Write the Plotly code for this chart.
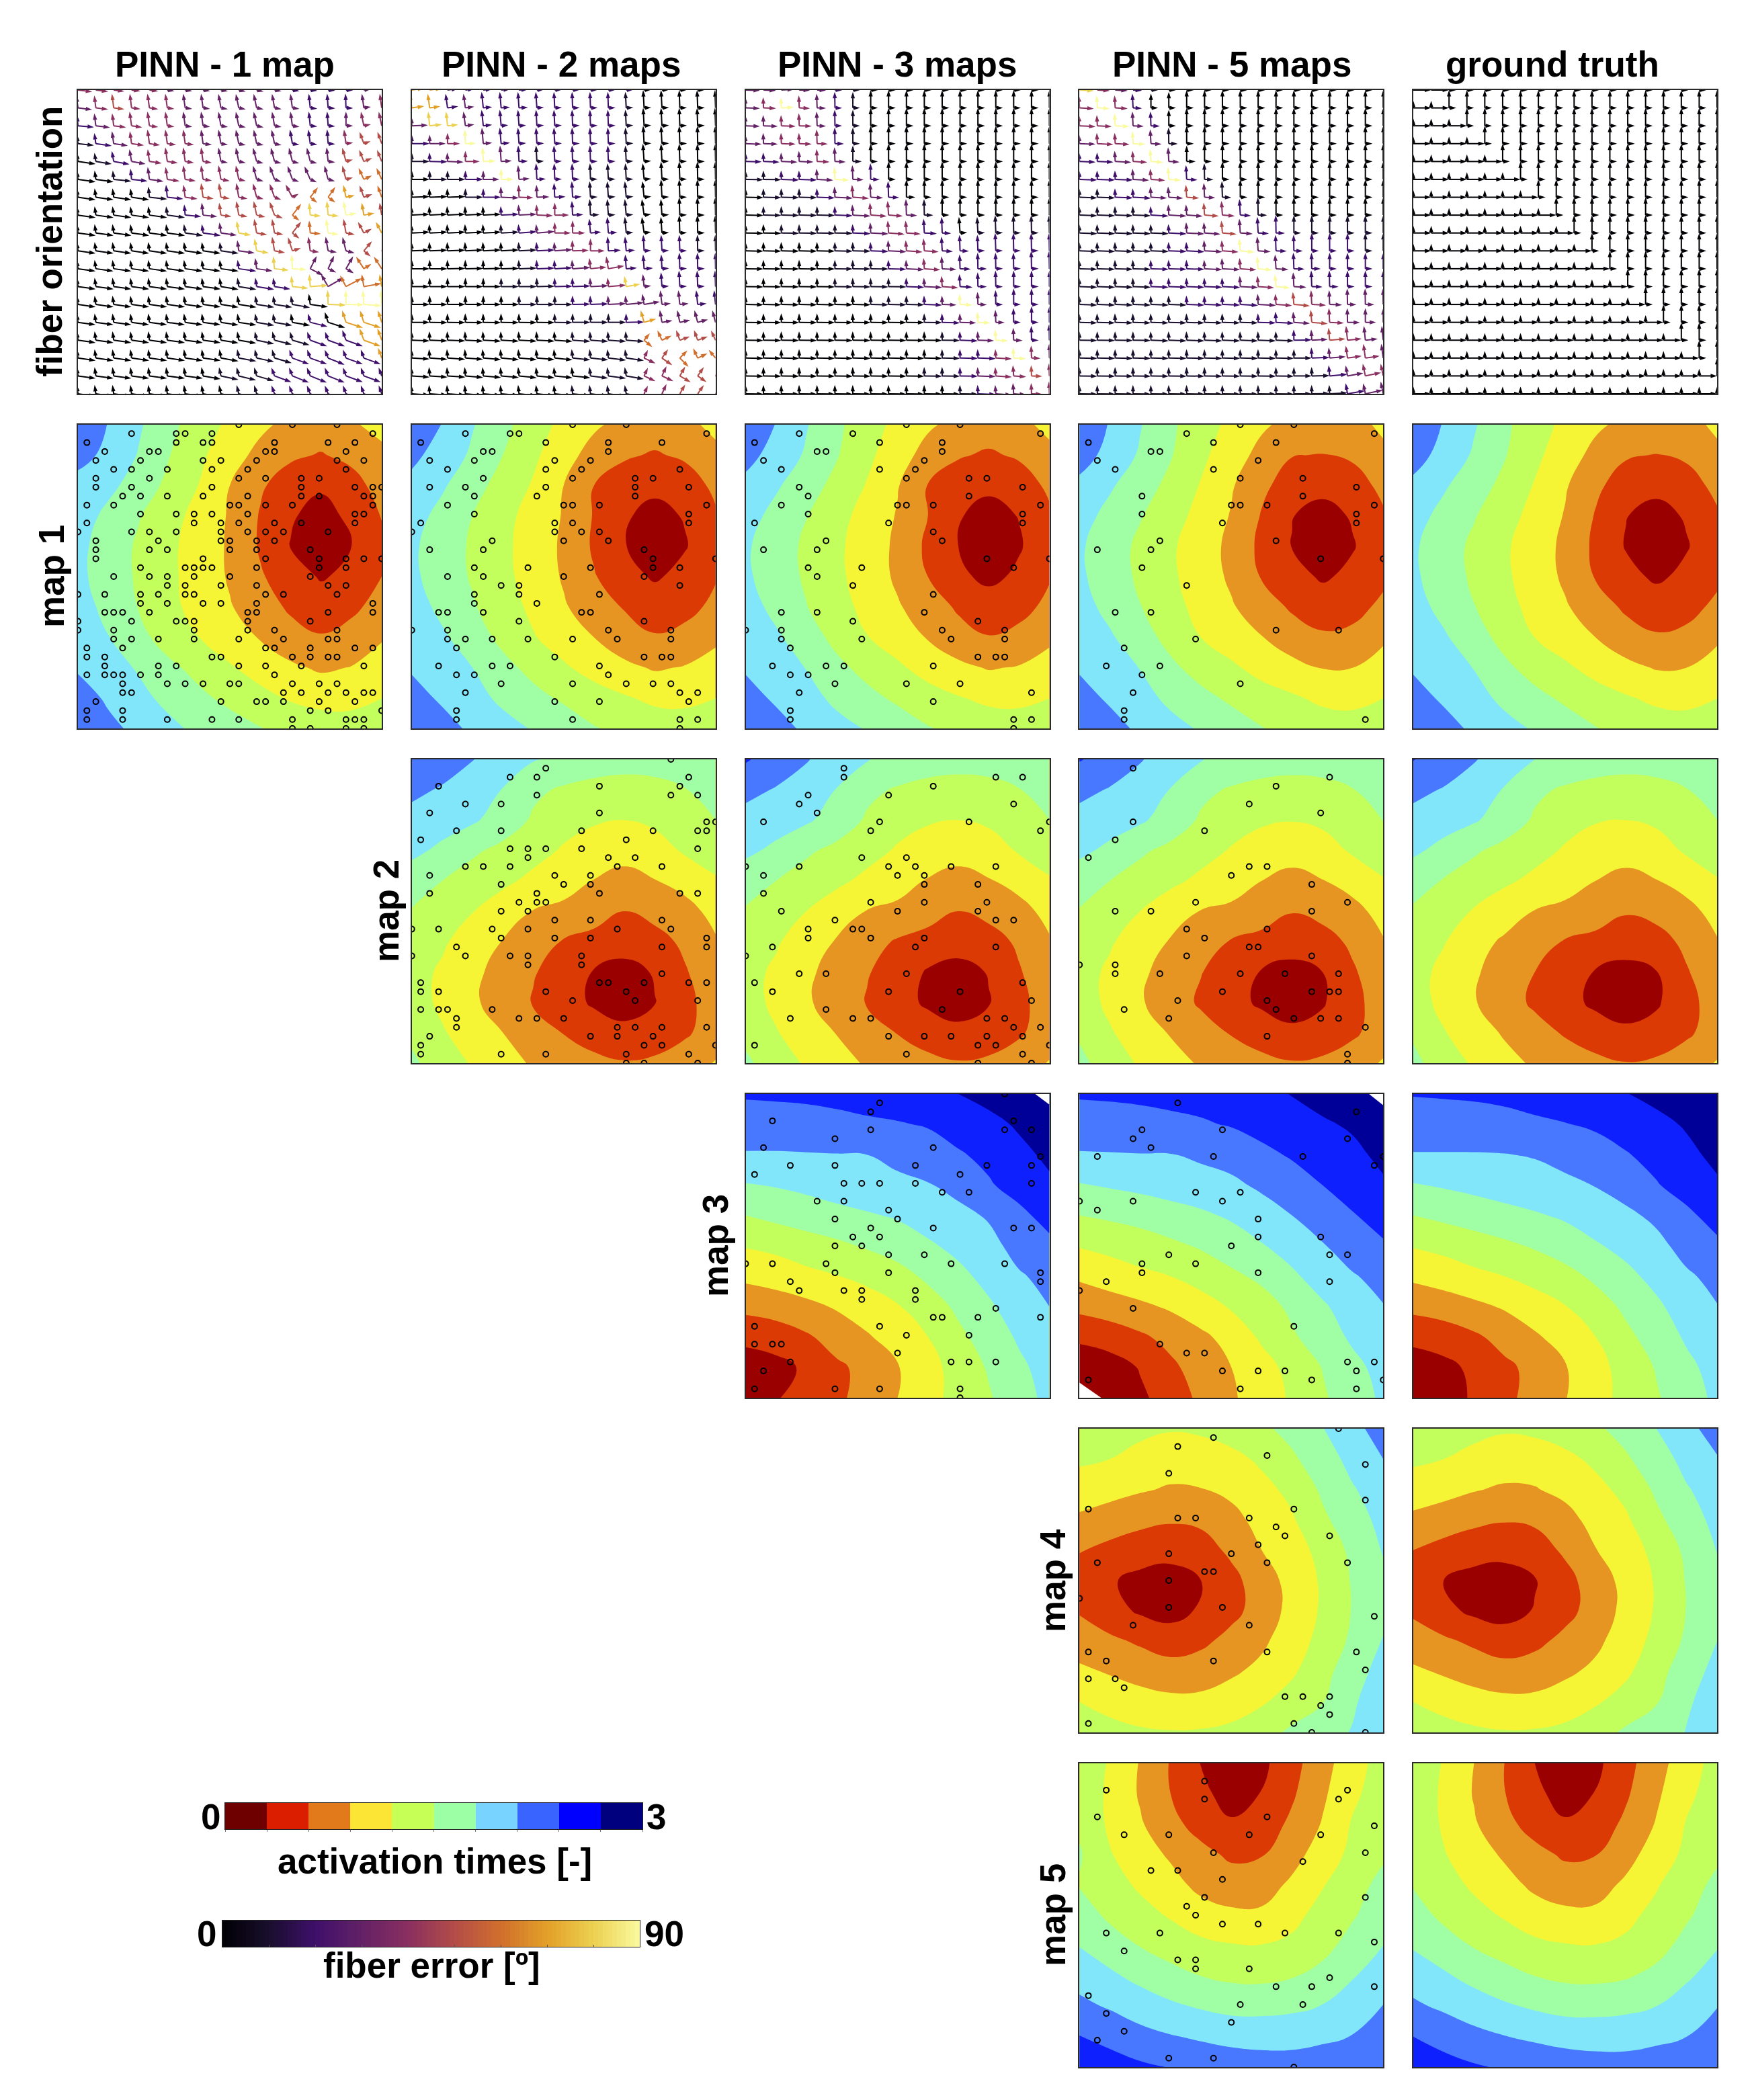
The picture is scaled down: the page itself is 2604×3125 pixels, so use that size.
import math
import plotly.graph_objects as go

W, H = 2604, 3125
COL_LEFT = [116, 612.75, 1109.5, 1606.25, 2103]
ROW_TOP = [134, 632, 1130, 1628, 2126, 2624]
PANEL = 452

col_titles = ["PINN - 1 map", "PINN - 2 maps", "PINN - 3 maps", "PINN - 5 maps", "ground truth"]
col_title_x = [334, 835, 1335, 1833, 2310]
row_labels = ["fiber orientation", "map 1", "map 2", "map 3", "map 4", "map 5"]
row_label_x = [74, 76, 574, 1064, 1566, 1566]

act_colors = ["#ffffff", "#9b0000", "#dc3a05", "#e69523", "#f5f535", "#c3ff5c", "#a0ffa5", "#82e6fa", "#4878ff", "#0f20ff", "#000098", "#ffffff"]
act_bar_colors = ["#6e0000", "#dc1e00", "#e27a1c", "#fce535", "#c6ff55", "#9dffa5", "#78d4ff", "#3a64ff", "#0000ff", "#00007f"]
act_bar_edges = [0, 0.3, 0.6, 0.9, 1.2, 1.5, 1.8, 2.1, 2.4, 2.7, 3.0]
act_bar_mids = [0.15, 0.45, 0.75, 1.05, 1.35, 1.65, 1.95, 2.25, 2.55, 2.85]
err_colors = ["#000004", "#190e2c", "#3e0f6a", "#632166", "#8a2f60", "#b24c48", "#d06f2d", "#e3a028", "#ecd050", "#fafaa0"]
err_ticks = [0, 10, 20, 30, 40, 50, 60, 70, 80, 90]

# activation time, hundredths, 11 x 11 nodes, top row first
at_1map_m1 = [
    [230, 209, 184, 158, 135, 114, 96, 82, 76, 86, 100],
    [220, 203, 178, 151, 126, 102, 82, 65, 58, 68, 82],
    [200, 188, 166, 143, 119, 90, 64, 45, 34, 48, 72],
    [196, 172, 152, 131, 110, 87, 58, 33, 20, 36, 62],
    [188, 166, 146, 126, 107, 86, 57, 29, 17, 29, 50],
    [187, 166, 146, 126, 107, 87, 63, 45, 27, 38, 60],
    [195, 170, 149, 128, 109, 92, 75, 55, 46, 53, 72],
    [205, 181, 158, 138, 120, 104, 88, 72, 62, 72, 87],
    [206, 192, 177, 156, 141, 123, 108, 95, 86, 91, 105],
    [225, 205, 188, 172, 156, 143, 129, 117, 110, 112, 120],
    [240, 218, 202, 187, 173, 162, 151, 142, 136, 132, 134],
]
at_2map_m1 = [
    [233, 209, 182, 158, 134, 112, 94, 82, 76, 82, 98],
    [217, 198, 175, 150, 126, 100, 80, 64, 57, 65, 82],
    [202, 184, 160, 140, 117, 90, 60, 44, 36, 44, 67],
    [192, 171, 150, 130, 108, 88, 58, 33, 22, 32, 56],
    [185, 165, 146, 126, 108, 85, 56, 31, 18, 28, 50],
    [186, 166, 147, 127, 109, 87, 62, 42, 26, 40, 58],
    [195, 172, 153, 133, 114, 93, 75, 58, 48, 52, 66],
    [205, 185, 163, 143, 122, 106, 90, 72, 62, 68, 82],
    [207, 196, 180, 158, 142, 124, 109, 97, 87, 92, 106],
    [220, 206, 190, 174, 158, 146, 133, 123, 114, 114, 120],
    [240, 220, 205, 190, 178, 165, 152, 143, 136, 132, 132],
]
at_3map_m1 = [
    [233, 209, 182, 156, 133, 112, 94, 82, 75, 82, 98],
    [219, 200, 176, 152, 127, 102, 80, 63, 56, 64, 82],
    [203, 184, 162, 142, 118, 92, 59, 43, 35, 44, 66],
    [192, 171, 151, 131, 108, 88, 60, 32, 21, 31, 55],
    [184, 164, 145, 125, 107, 84, 54, 30, 16, 27, 50],
    [185, 165, 146, 126, 107, 85, 60, 37, 22, 36, 58],
    [194, 171, 151, 131, 112, 93, 75, 56, 47, 52, 66],
    [206, 185, 163, 142, 121, 106, 88, 71, 61, 67, 82],
    [207, 196, 179, 157, 141, 125, 109, 97, 88, 92, 106],
    [220, 206, 191, 173, 158, 145, 132, 122, 114, 114, 120],
    [240, 220, 205, 190, 178, 165, 152, 143, 136, 132, 132],
]
at_5map_m1 = [
    [233, 208, 182, 155, 133, 113, 94, 82, 76, 80, 96],
    [221, 202, 176, 152, 127, 102, 82, 61, 59, 65, 83],
    [204, 184, 162, 143, 118, 93, 66, 47, 39, 46, 68],
    [192, 171, 152, 133, 110, 88, 58, 31, 19, 33, 56],
    [184, 164, 144, 124, 106, 82, 53, 29, 15, 28, 48],
    [185, 165, 145, 125, 106, 85, 58, 41, 26, 37, 54],
    [192, 171, 151, 130, 111, 93, 74, 56, 46, 51, 66],
    [204, 184, 162, 141, 120, 105, 91, 74, 64, 67, 84],
    [207, 195, 179, 156, 139, 125, 110, 99, 89, 90, 105],
    [220, 206, 191, 173, 158, 145, 133, 124, 114, 113, 120],
    [240, 220, 205, 190, 177, 164, 151, 142, 135, 131, 131],
]
at_true_m1 = [
    [234, 208, 183, 156, 133, 113, 95, 83, 77, 80, 96],
    [221, 201, 176, 152, 127, 103, 82, 63, 59, 65, 83],
    [204, 184, 162, 143, 118, 93, 66, 46, 38, 47, 68],
    [192, 171, 152, 132, 110, 88, 58, 31, 20, 33, 56],
    [184, 164, 144, 124, 106, 83, 54, 28, 16, 28, 48],
    [185, 165, 145, 125, 106, 85, 58, 39, 25, 37, 54],
    [192, 171, 151, 130, 111, 93, 74, 55, 46, 51, 66],
    [204, 184, 162, 141, 120, 105, 90, 73, 63, 67, 84],
    [207, 195, 179, 156, 139, 125, 110, 98, 88, 90, 105],
    [220, 206, 191, 173, 158, 145, 133, 123, 114, 113, 120],
    [240, 220, 205, 190, 177, 164, 151, 142, 135, 131, 131],
]
at_2map_m2 = [
    [238, 225, 211, 196, 182, 174, 168, 164, 164, 168, 172],
    [217, 207, 196, 179, 156, 146, 139, 136, 140, 149, 162],
    [200, 192, 184, 167, 146, 130, 123, 120, 126, 133, 150],
    [187, 174, 155, 142, 130, 117, 107, 102, 107, 124, 133],
    [165, 150, 137, 126, 113, 102, 89, 79, 89, 100, 117],
    [148, 134, 121, 105, 89, 83, 72, 60, 68, 80, 99],
    [136, 125, 103, 89, 72, 58, 51, 47, 51, 65, 87],
    [133, 115, 97, 79, 62, 48, 28, 17, 33, 58, 76],
    [134, 114, 95, 76, 58, 42, 26, 14, 29, 53, 72],
    [144, 123, 105, 90, 74, 59, 46, 40, 42, 56, 73],
    [155, 137, 117, 100, 87, 76, 68, 62, 66, 75, 92],
]
at_3map_m2 = [
    [243, 227, 212, 196, 181, 172, 167, 164, 164, 168, 178],
    [218, 208, 197, 179, 157, 147, 139, 136, 140, 149, 162],
    [200, 192, 184, 168, 146, 130, 123, 120, 125, 133, 150],
    [186, 174, 155, 142, 130, 117, 106, 102, 106, 123, 134],
    [164, 150, 137, 126, 113, 102, 88, 79, 88, 100, 117],
    [147, 134, 120, 104, 89, 83, 71, 60, 67, 80, 99],
    [136, 124, 102, 88, 71, 57, 50, 46, 50, 64, 87],
    [132, 114, 96, 78, 62, 47, 27, 17, 32, 58, 76],
    [133, 113, 94, 76, 58, 42, 25, 14, 28, 53, 73],
    [143, 122, 104, 89, 74, 59, 46, 39, 42, 56, 75],
    [155, 137, 116, 100, 87, 76, 68, 62, 66, 75, 92],
]
at_5map_m2 = [
    [242, 228, 212, 196, 181, 172, 167, 164, 164, 170, 179],
    [218, 208, 197, 179, 157, 147, 140, 137, 141, 149, 163],
    [200, 192, 184, 168, 146, 131, 124, 121, 126, 134, 151],
    [186, 174, 155, 142, 130, 118, 107, 103, 107, 124, 134],
    [165, 150, 137, 126, 114, 103, 90, 80, 89, 101, 118],
    [148, 134, 120, 104, 89, 84, 74, 61, 68, 81, 100],
    [137, 124, 102, 88, 72, 58, 51, 47, 50, 65, 88],
    [134, 114, 96, 77, 61, 47, 28, 18, 30, 57, 76],
    [136, 113, 93, 74, 56, 40, 25, 13, 27, 52, 73],
    [146, 123, 104, 88, 72, 58, 46, 38, 41, 55, 74],
    [157, 137, 116, 100, 87, 76, 68, 62, 66, 76, 93],
]
at_true_m2 = [
    [241, 228, 212, 196, 180, 172, 167, 164, 165, 171, 179],
    [218, 208, 196, 178, 156, 146, 139, 136, 140, 149, 163],
    [200, 191, 183, 167, 146, 130, 122, 120, 125, 133, 150],
    [185, 172, 154, 141, 130, 117, 106, 102, 107, 124, 134],
    [163, 148, 136, 125, 113, 102, 90, 81, 89, 101, 118],
    [146, 132, 118, 103, 89, 83, 74, 62, 68, 81, 100],
    [135, 122, 100, 86, 71, 58, 52, 47, 50, 66, 88],
    [132, 112, 94, 76, 60, 47, 28, 19, 29, 58, 77],
    [135, 111, 92, 73, 55, 40, 24, 14, 26, 51, 73],
    [146, 122, 103, 87, 71, 57, 45, 37, 41, 55, 74],
    [157, 136, 116, 99, 86, 75, 67, 61, 65, 76, 92],
]
at_3map_m3 = [
    [242, 243, 244, 246, 250, 255, 262, 270, 280, 292, 307],
    [231, 231, 232, 234, 236, 238, 242, 252, 261, 274, 287],
    [207, 207, 208, 209, 210, 218, 227, 237, 247, 262, 276],
    [178, 182, 187, 194, 199, 203, 208, 219, 237, 251, 265],
    [150, 158, 165, 171, 177, 183, 192, 202, 213, 233, 250],
    [122, 127, 136, 144, 153, 164, 176, 187, 201, 220, 233],
    [97, 104, 112, 119, 128, 138, 156, 173, 188, 207, 218],
    [68, 73, 82, 93, 105, 118, 135, 156, 176, 193, 210],
    [39, 45, 56, 72, 87, 103, 120, 143, 163, 184, 198],
    [12, 20, 35, 55, 68, 88, 110, 131, 153, 174, 192],
    [8, 28, 41, 55, 70, 90, 108, 132, 147, 168, 188],
]
at_5map_m3 = [
    [242, 243, 244, 246, 250, 256, 263, 271, 281, 292, 307],
    [231, 231, 233, 235, 237, 242, 250, 258, 266, 274, 288],
    [207, 208, 209, 209, 215, 221, 233, 243, 252, 263, 277],
    [178, 183, 188, 193, 198, 204, 215, 227, 240, 252, 266],
    [150, 155, 160, 168, 175, 184, 197, 210, 224, 238, 253],
    [122, 128, 136, 144, 153, 165, 178, 192, 208, 222, 236],
    [95, 105, 113, 120, 132, 144, 156, 175, 193, 208, 218],
    [68, 75, 84, 94, 107, 123, 138, 156, 176, 194, 209],
    [36, 44, 55, 69, 84, 100, 125, 146, 165, 185, 200],
    [10, 16, 32, 54, 73, 90, 108, 130, 151, 172, 190],
    [-10, 4, 25, 42, 67, 86, 105, 124, 146, 166, 185],
]
at_true_m3 = [
    [241, 242, 243, 245, 249, 254, 261, 269, 278, 288, 298],
    [230, 230, 231, 233, 236, 239, 244, 253, 262, 273, 286],
    [208, 208, 208, 209, 212, 219, 228, 238, 249, 263, 277],
    [178, 183, 188, 193, 198, 204, 211, 222, 238, 252, 266],
    [150, 157, 164, 171, 177, 184, 194, 204, 216, 234, 251],
    [122, 128, 136, 144, 153, 165, 177, 188, 202, 220, 234],
    [96, 104, 113, 120, 130, 140, 156, 173, 188, 206, 218],
    [68, 74, 83, 93, 106, 119, 136, 156, 175, 193, 209],
    [38, 44, 55, 70, 86, 102, 120, 143, 163, 184, 198],
    [14, 22, 36, 54, 68, 88, 110, 131, 152, 173, 191],
    [2, 16, 34, 53, 70, 89, 108, 130, 147, 167, 186],
]
at_5map_m4 = [
    [133, 130, 126, 122, 125, 133, 144, 160, 179, 200, 225],
    [124, 120, 112, 105, 105, 112, 125, 145, 168, 188, 210],
    [108, 100, 93, 87, 89, 99, 112, 127, 155, 178, 193],
    [84, 76, 68, 63, 66, 78, 103, 117, 144, 168, 188],
    [62, 52, 44, 41, 47, 66, 90, 106, 130, 157, 182],
    [43, 33, 22, 17, 30, 51, 76, 100, 124, 153, 174],
    [58, 41, 26, 19, 34, 52, 72, 100, 124, 152, 172],
    [72, 66, 56, 47, 54, 69, 85, 105, 130, 156, 182],
    [97, 87, 78, 72, 75, 86, 97, 116, 139, 169, 190],
    [120, 112, 103, 98, 98, 104, 117, 132, 149, 176, 200],
    [134, 128, 124, 122, 123, 128, 138, 156, 168, 182, 204],
]
at_true_m4 = [
    [134, 131, 127, 123, 126, 134, 145, 161, 180, 202, 222],
    [125, 120, 113, 106, 106, 113, 126, 146, 168, 188, 208],
    [106, 100, 92, 86, 88, 99, 112, 128, 155, 178, 192],
    [83, 75, 67, 62, 65, 78, 102, 116, 143, 167, 188],
    [60, 50, 42, 40, 46, 65, 89, 105, 129, 156, 181],
    [40, 30, 20, 16, 28, 50, 75, 99, 123, 152, 173],
    [56, 38, 24, 18, 32, 51, 72, 99, 123, 151, 171],
    [71, 65, 55, 46, 53, 68, 84, 104, 129, 155, 180],
    [96, 86, 77, 71, 74, 85, 96, 115, 138, 168, 188],
    [120, 112, 103, 98, 98, 104, 117, 131, 148, 175, 198],
    [135, 129, 125, 122, 123, 128, 138, 155, 167, 181, 202],
]
at_5map_m5 = [
    [142, 117, 88, 58, 29, 13, 23, 50, 79, 108, 132],
    [142, 114, 87, 60, 36, 20, 31, 56, 85, 114, 136],
    [145, 115, 93, 70, 47, 33, 44, 66, 92, 123, 144],
    [153, 122, 103, 86, 70, 54, 58, 80, 103, 128, 147],
    [148, 133, 115, 100, 82, 76, 78, 95, 118, 142, 156],
    [165, 144, 131, 117, 103, 95, 95, 112, 130, 147, 168],
    [179, 165, 149, 137, 127, 122, 121, 126, 140, 162, 180],
    [199, 185, 172, 160, 150, 144, 143, 148, 160, 178, 194],
    [217, 207, 195, 185, 177, 171, 171, 174, 181, 195, 211],
    [241, 232, 220, 212, 206, 201, 199, 200, 205, 211, 227],
    [260, 252, 245, 239, 232, 227, 224, 223, 225, 228, 236],
]
at_true_m5 = [
    [141, 118, 90, 60, 30, 12, 23, 50, 79, 106, 131],
    [141, 115, 88, 61, 36, 20, 31, 56, 85, 113, 135],
    [144, 116, 93, 70, 47, 33, 44, 66, 92, 122, 143],
    [150, 122, 103, 86, 70, 55, 59, 80, 103, 127, 146],
    [148, 132, 115, 100, 84, 77, 79, 95, 117, 141, 155],
    [163, 143, 130, 117, 103, 96, 96, 112, 129, 146, 166],
    [177, 164, 148, 137, 127, 122, 121, 126, 139, 160, 178],
    [197, 184, 171, 160, 150, 144, 143, 147, 158, 176, 192],
    [215, 205, 194, 184, 176, 170, 170, 173, 180, 193, 209],
    [240, 230, 219, 211, 205, 200, 198, 199, 204, 210, 225],
    [258, 250, 243, 237, 231, 226, 223, 222, 224, 227, 234],
]

# measured points: one sublist per lattice row (35 rows), columns 0-34
pts_1map_m1 = [
    [18, 24, 29], [6, 11, 12, 15, 33], [1, 11, 14, 15, 22, 28, 31], [3, 8, 9, 21, 22, 30],
    [2, 7, 14, 16, 20, 29, 32], [4, 6, 10, 15, 19, 30], [2, 8, 18, 21, 25, 27],
    [2, 6, 15, 25, 31, 33, 34], [5, 7, 10, 14, 19, 25, 27, 32, 33], [1, 4, 17, 18, 21, 24, 33],
    [7, 11, 13, 15, 19, 31, 32], [1, 13, 16, 18, 22, 25, 31], [0, 6, 8, 11, 16, 19, 21, 23, 28],
    [2, 9, 16, 17, 20, 22], [2, 8, 10, 17, 20, 26], [2, 14, 21, 27, 30, 32, 34],
    [7, 12, 13, 14, 15, 20, 27, 30], [4, 8, 10, 13, 17, 26], [10, 12, 16, 20, 28, 30],
    [0, 3, 7, 9, 12, 13, 21, 23, 29], [7, 10, 14, 16, 20, 33], [3, 4, 5, 8, 19, 20, 28, 33],
    [0, 6, 11, 12, 13, 19, 26], [0, 4, 13, 19, 22, 29], [4, 6, 9, 13, 18, 23, 28, 29],
    [1, 5, 21, 22, 26, 31, 33], [1, 3, 15, 16, 24, 26, 28, 29], [3, 9, 11, 18, 21, 25, 32],
    [1, 3, 4, 5, 7, 9, 22], [5, 10, 12, 14, 17, 18, 24, 27, 29], [5, 6, 23, 25, 28, 30, 32, 33],
    [2, 16, 20, 21, 23, 27, 31], [1, 5, 26, 28, 34], [1, 5, 10, 15, 18, 24, 30, 31, 32],
    [24, 26, 30, 32],
]
pts_2map_m1 = [
    [18, 24], [6, 11, 12, 33], [1, 15, 22, 28], [8, 9, 22], [2, 7, 16, 20], [4, 15, 19, 30],
    [8, 18, 25, 27], [2, 6, 15, 25, 31], [7, 14, 25], [4, 17, 18, 21, 33], [7, 31], [1, 16, 18, 31],
    [0, 16, 19, 21], [9, 17, 22], [2, 8, 26], [27, 34], [7, 13, 20, 27, 30], [4, 8, 17, 26],
    [10, 12, 30], [7, 12, 21], [7, 14], [3, 4, 8, 19, 20], [12, 26], [0, 4, 22, 29],
    [4, 6, 9, 13, 18, 23, 29], [5], [16, 26, 28, 29], [3, 9, 11, 21], [5, 7, 22],
    [10, 18, 24, 27, 29], [6, 30, 32], [16, 21, 31], [5], [5, 18, 30, 32], [30],
]
pts_2map_m2 = [
    [29], [15], [11, 14, 31], [3, 21, 30], [14, 29, 32], [6, 10], [2, 21], [33, 34],
    [5, 10, 19, 27, 32, 33], [1, 24], [11, 13, 15, 19, 32], [13, 22, 25], [6, 8, 11, 23, 28],
    [2, 16, 20], [10, 17, 20], [2, 14, 21, 30, 32], [12, 14, 15], [10, 13], [16, 20, 28],
    [0, 3, 9, 13, 23, 29], [10, 16, 20, 33], [5, 28, 33], [0, 6, 11, 13, 19], [13, 19], [28],
    [1, 21, 22, 26, 31, 33], [1, 3, 15, 24], [18, 25, 32], [1, 3, 4, 9], [5, 12, 14, 17],
    [5, 23, 25, 28, 33], [2, 20, 23, 27], [1, 26, 28, 34], [1, 10, 15, 24, 31], [24, 26, 32],
]
pts_3map_m1 = [
    [18, 24], [6, 12, 33], [1, 15, 22], [8, 9, 22], [2, 20], [4, 15, 19], [18, 25, 27], [6, 31],
    [7, 25], [4, 17, 18, 21, 33], [7, 31], [1, 16, 31], [21], [9, 22], [2, 8], [27, 34],
    [7, 13, 30], [8], [12], [21], [], [4, 8, 20], [12, 26], [0, 4, 22, 29], [4, 13, 23, 29], [5],
    [26, 28, 29], [3, 9, 11, 21], [5, 7], [10, 18, 24], [6, 32], [21], [5], [5, 30, 32], [30],
]
pts_3map_m2 = [
    [], [11], [11, 28, 31], [21], [7, 16], [6, 30], [8], [2, 15, 25, 34], [14, 33], [], [],
    [13, 18], [0, 6, 16, 19, 23, 28], [2, 17, 20], [20, 26], [2], [14, 20, 27], [4, 17, 26],
    [10, 28, 30], [7, 12, 13], [7, 14, 20], [3, 19, 28], [0], [], [6, 9, 18], [1, 31],
    [3, 16, 24], [32], [9, 22], [5, 12, 14, 27, 29], [30, 33], [16, 20, 23, 27, 31],
    [1, 26, 28, 34], [18, 31], [26, 32],
]
pts_3map_m3 = [
    [29], [15], [14], [3, 30], [14, 29, 32], [10], [2, 21], [33], [5, 10, 19, 27, 32], [1, 24],
    [11, 13, 15, 19, 32], [22, 25], [8, 11], [16], [10, 17], [14, 21, 30, 32], [12, 15], [10, 13],
    [16, 20], [0, 3, 9, 23, 29], [10, 16, 33], [5, 33], [6, 11, 13, 19], [13, 19], [28],
    [21, 22, 26, 33], [1, 15], [18, 25], [1, 3, 4], [17], [5, 23, 25, 28], [2], [],
    [1, 10, 15, 24], [24],
]
pts_5map_m1 = [
    [18, 24], [12, 33], [1, 15, 22], [8, 9], [2, 20], [4, 15], [18, 25], [31], [7, 25],
    [17, 18, 21, 33], [7, 31], [16, 31], [], [9, 22], [2, 8], [27, 34], [7], [], [12], [], [],
    [4, 8], [], [22, 29], [13], [5], [], [3, 9], [7], [18], [6], [], [5], [5, 32], [],
]
pts_5map_m2 = [
    [], [6], [28], [22], [], [19], [27], [6], [14], [4], [], [1], [19, 21], [17], [26], [],
    [13, 30], [4, 8, 26], [], [12, 21], [14], [19, 20], [12, 26], [0, 4], [4, 9, 18, 23, 29], [],
    [16, 26, 28, 29], [11, 21], [5, 22], [10, 24, 27, 29], [32], [21], [], [30], [30],
]
pts_5map_m3 = [
    [], [11], [31], [], [7, 16], [6, 30], [8], [2, 15, 25, 34], [33], [], [], [13, 18],
    [0, 6, 16], [2], [20], [], [20, 27], [17], [10, 28, 30], [7, 13], [7, 20], [3, 28], [0], [],
    [6], [], [24], [], [9], [12, 14], [30, 33], [16, 20, 23, 31], [1, 26, 34], [18, 31], [],
]
pts_5map_m4 = [
    [29], [15], [11], [21], [32], [10], [], [], [32], [1, 24], [11, 13, 19], [22], [23, 28], [20],
    [10, 17], [2, 21, 30], [14, 15], [10], [], [0], [10, 16], [33], [6, 19], [], [], [1, 21, 31],
    [3, 15], [32], [1, 4], [5], [23, 25, 28], [27], [28], [1, 24], [26, 32],
]
pts_5map_m5 = [
    [], [], [14], [3, 30], [14, 29], [], [2, 21], [33], [5, 10, 19, 27], [], [15, 32], [25],
    [8, 11], [16], [], [14, 32], [12], [13], [16, 20], [3, 9, 23, 29], [33], [5], [11, 13],
    [13, 19], [28], [22, 26, 33], [1], [18, 25], [3], [17], [5], [2], [], [10, 15], [24],
]

# fibers: 18 x 18 nodes. tilt in degrees, error digit = 10 deg bins,
# length digits d mean (d + 1) / 10 of the node spacing
tilt_1map = [
    [-7, -7, -7, -7, -8, -8, -8, -8, -10, -12, -12, -10, -8, -6, -4, -2, 8, 8],
    [-7, -7, -7, -7, -8, -8, -8, -8, -10, -12, -12, -10, -8, -6, -4, -2, 8, 8],
    [-5, -7, -7, -8, -8, -8, -8, -8, -10, -12, -12, -10, -8, -6, -4, 0, 12, 12],
    [-6, -8, -8, -8, -8, -8, -8, -8, -10, -12, -12, -12, -10, -8, -4, 8, 20, 20],
    [-8, -9, -10, -10, -8, -8, -8, -8, -10, -12, -15, -15, -14, -14, -6, 15, 22, 22],
    [-8, -8, -6, -6, -8, -8, -8, -8, -10, -12, -15, -20, -20, -24, -15, 15, 25, 25],
    [-8, -8, -8, -8, -6, -6, -8, -8, -8, -10, -15, -20, 28, -38, -35, 12, 20, 20],
    [-8, -8, -8, -8, -8, -8, -5, -6, -8, -10, -12, -20, -38, -5, -5, 10, 10, 10],
    [-8, -8, -8, -8, -8, -8, -8, -8, -8, -10, -10, -10, -38, -5, -8, -10, 28, 28],
    [-8, -8, -8, -8, -8, -8, -8, -8, -8, -8, -10, -10, 18, -8, -10, -14, -40, -40],
    [-8, -8, -8, -8, -8, -8, -8, -8, -8, -8, -8, -6, -3, -27, -25, -30, 33, 33],
    [-8, -8, -8, -8, -8, -8, -8, -8, -9, -9, -9, -9, -6, 4, 30, 28, 10, 10],
    [-8, -8, -8, -8, -8, -8, -8, -8, -9, -9, -9, -9, -10, -8, -2, -1, -4, -4],
    [-8, -8, -8, -8, -8, -8, -8, -8, -9, -9, -10, -10, -10, -14, -18, -18, -18, -18],
    [-8, -8, -8, -8, -8, -8, -8, -8, -9, -10, -12, -14, -16, -20, -20, -20, -20, -20],
    [-8, -8, -8, -8, -8, -8, -8, -8, -10, -10, -12, -16, -20, -20, -22, -20, -20, -20],
    [-8, -8, -8, -8, -8, -8, -8, -10, -12, -14, -16, -20, -22, -22, -22, -20, -20, -20],
    [-8, -8, -8, -8, -8, -8, -8, -10, -12, -14, -16, -20, -22, -22, -22, -20, -20, -20],
]
err_1map = [
    "444443333333222234", "345444333333322234", "234444333333322344", "123444433333222455",
    "012344443333333555", "001234444433333566", "000012455444466756", "000001235555688975",
    "000000123855569557", "000000001385543356", "000000000238933366", "000000000122883667",
    "000000000011108999", "000000000011020777", "000000000011122277", "000000000111222227",
    "000000001112222222", "000000000112222222",
]
right_1map = [
    "765443333333333333", "765443333333333333", "876543333333333333", "887654443333333333",
    "988765443333333344", "999876544333333344", "999998654433344444", "999999875444455554",
    "999999998654455444", "999999999865444444", "999999999987774445", "999999999998899999",
    "999999999999999999", "999999999999999999", "999999999999999999", "999999999999999999",
    "999999999999999999", "999999999999999999",
]
up_1map = [
    "667777777777777777", "667777777777777777", "566777777777777777", "456677777777777766",
    "445667777777777766", "444566777777777766", "444456677777766666", "444444566777767766",
    "444444445677767766", "444444444567777766", "444444444456777777", "444444444444567666",
    "444444444444457777", "444444444444445666", "444444444444444566", "444444444444444445",
    "444444444444444444", "444444444444444444",
]
tilt_2map = [
    [8, 8, 8, 8, 6, 5, 4, 4, 3, 2, 2, 2, 3, 3, 3, 2, 2, 2],
    [8, 8, 8, 8, 6, 5, 4, 4, 3, 2, 2, 2, 3, 3, 3, 2, 2, 2],
    [2, 6, 6, 8, 6, 5, 4, 3, 3, 2, 2, 2, 3, 3, 3, 2, 2, 2],
    [0, 0, 0, 2, 5, 5, 4, 3, 3, 2, 2, 2, 3, 3, 3, 2, 1, 1],
    [0, -1, -2, 0, 3, 4, 3, 3, 3, 2, 2, 2, 3, 4, 3, 2, 1, 1],
    [0, 0, 0, 0, 0, 0, 4, 3, 2, 2, 2, 3, 3, 5, 3, 2, 1, 1],
    [2, 2, 2, 0, 0, -2, -2, 2, 3, 3, 3, 4, 5, 6, 3, 2, 1, 1],
    [3, 3, 3, 3, 3, 3, 3, -2, 0, 3, 3, 4, 5, 8, 4, 2, 1, 1],
    [3, 3, 3, 3, 3, 3, 4, 5, 0, 0, 5, 4, 5, 8, 4, 2, 1, 1],
    [2, 2, 2, 3, 3, 3, 3, 3, 4, 2, 0, 3, 5, 3, 3, 2, 1, 1],
    [0, 0, 1, 1, 1, 1, 2, 2, 3, 4, 6, 10, 4, 4, 3, 2, 1, 1],
    [0, 0, 0, 0, 0, 0, 0, 1, 1, 2, 3, 5, 10, 6, 4, 3, 2, 2],
    [0, 0, 0, 0, 0, 0, 0, 0, 0, 1, 2, 3, 6, 10, 7, 6, 6, 6],
    [0, -1, -1, -1, -1, -1, -1, -1, -1, 0, 0, 0, 1, 16, 10, 12, 15, 15],
    [-2, -2, -2, -3, -3, -3, -3, -3, -4, -4, -4, -4, -4, -40, 25, 20, 20, 25],
    [-3, -4, -4, -4, -5, -5, -5, -5, -6, -6, -6, -7, -8, -25, -35, -45, 25, 40],
    [-4, -4, -4, -5, -5, -5, -6, -6, -6, -6, -7, -8, -10, -25, -25, -30, -35, -35],
    [-4, -4, -4, -5, -5, -5, -6, -6, -6, -6, -7, -8, -10, -25, -25, -30, -35, -35],
]
err_2map = [
    "772222222222200000", "772322222222100000", "388322222222100000", "234932222222100000",
    "123493212222100000", "011239322211100000", "000123432211100000", "000002344211100000",
    "000001234422100000", "000000123442222211", "000000122344222222", "000001112234832222",
    "000000111223333322", "000000001111273333", "000000000111166555", "000000000111145666",
    "000000000011144555", "000000000111144555",
]
right_2map = [
    "665444433333333333", "655444433333333333", "865443333333333333", "986544333333333333",
    "998765433333333333", "999986543333333333", "999999765433333333", "999999987543333333",
    "999999998654333333", "999999999876433333", "999999999988543333", "999999999999733333",
    "999999999999984444", "999999999999965555", "999999999999955555", "999999999999966655",
    "999999999999966655", "999999999999966655",
]
up_2map = [
    "777788888888899999", "777788888888899999", "477788888888899999", "445788888888899999",
    "444578888888899999", "444445788888889999", "444445667888889999", "444444556788888999",
    "444444445678888999", "444444444567788888", "444444444456777888", "444444444444567888",
    "444444444444457777", "444444444444466666", "444444444444445555", "444444444444445555",
    "444444444444445555", "444444444444445555",
]
tilt_3map = [
    [-2, -2, 3, -2, -2, -1, 0, 0, 0, 0, 0, 0, 0, 0, 0, 0, 0, 0],
    [-2, -2, 3, -2, -2, -1, 0, 0, 0, 0, 0, 0, 0, 0, 0, 0, 0, 0],
    [-2, -2, -2, -2, -2, -1, 0, 0, 0, 0, 0, 0, 0, 0, 0, 0, 0, 0],
    [-2, -2, -2, -2, -2, -1, 0, 0, 0, 0, 0, 0, 0, 0, 0, 0, 0, 0],
    [-1, -2, -2, -2, -2, -2, 0, 0, 0, 0, 0, 0, 0, 0, 0, 0, 0, 0],
    [-1, -1, -2, -2, -3, -3, -2, -1, 0, 0, 0, 0, 0, 0, 0, 0, 0, 0],
    [-1, -1, -1, -1, -2, -3, -4, -3, -2, 0, 0, 0, 0, 0, 0, 0, 0, 0],
    [-1, -1, -1, -1, -1, -2, -3, -4, -4, -2, -1, 0, 0, 0, 0, 0, 0, 0],
    [-1, -1, -1, -1, -1, -1, -2, -3, -4, -4, -3, -2, 4, 3, 2, 1, 1, 1],
    [-1, -1, -1, -1, -1, -1, -1, -2, -3, -4, -4, -3, -2, 2, 2, 1, 1, 1],
    [-1, -1, -1, -1, -1, -1, -1, -1, -2, -3, -4, -3, -2, -1, 1, 1, 1, 1],
    [-1, -1, -1, -1, -1, -1, -1, -1, -1, -2, -3, -4, -3, -1, -1, 0, 0, 0],
    [-1, -1, -1, -1, -1, -1, -1, -1, -1, -1, -2, -2, -3, -2, -1, 0, 0, 0],
    [-1, -1, -1, -1, -1, -1, -1, -1, -1, -1, -1, -2, -2, -3, -2, -1, 0, 0],
    [-1, -1, -1, -1, -1, -1, -1, -1, -1, -1, -1, -1, -2, -2, -3, -2, -1, -1],
    [-1, -1, -1, -1, -1, -1, -1, -1, -1, -1, -1, -1, -1, -2, -3, -3, -2, -1],
    [-1, -1, -1, -1, -1, -1, -1, -1, -1, -1, -1, -1, -1, -2, -4, -4, -2, -2],
    [-1, -1, -1, -1, -1, -1, -1, -1, -1, -1, -1, -1, -1, -2, -4, -4, -2, -2],
]
err_3map = [
    "333332100000000000", "349432100000000000", "334432100000000000", "334442100000000000",
    "223343100000000000", "112239320000000000", "011123432000000000", "011112344310000000",
    "001111234422011111", "000001123442222222", "000001112343222222", "000001111234222222",
    "000000011123932222", "000000000012393222", "000000000001239322", "000000000001224943",
    "000000000011234454", "000000000000123344",
]
right_3map = [
    "766543333333333333", "766543333333333333", "777643333333333333", "877654333333333333",
    "888765433333333333", "999987543333333333", "999999865433333333", "999999987543333333",
    "999999998764333333", "999999999875433333", "999999999987543333", "999999999998643333",
    "999999999997643333", "999999999999864333", "999999999999986433", "999999999999998643",
    "999999999999998655", "999999999999998655",
]
up_3map = [
    "555678899999999999", "555678899999999999", "555678899999999999", "455578899999999999",
    "444567899999999999", "444456789999999999", "444445678999999999", "444444567889999999",
    "444444456678889999", "444444445567889999", "444444444456788899", "444444444445678888",
    "444444444444567888", "444444444444456788", "444444444444445678", "444444444444444567",
    "444444444444444556", "444444444444444556",
]
tilt_5map = [
    [-3, -3, -3, -3, 0, 0, 0, 0, 0, 0, 0, 0, 0, 0, 0, 0, 0, 0],
    [-3, -3, -3, -3, 0, 0, 0, 0, 0, 0, 0, 0, 0, 0, 0, 0, 0, 0],
    [-3, -3, -3, -3, -2, 0, 0, 0, 0, 0, 0, 0, 0, 0, 0, 0, 0, 0],
    [-2, -3, -3, -3, -3, -1, 0, 0, 0, 0, 0, 0, 0, 0, 0, 0, 0, 0],
    [-2, -2, -3, -3, -4, -3, 0, 0, 0, 0, 0, 0, 0, 0, 0, 0, 0, 0],
    [-2, -2, -2, -3, -4, -4, -3, -1, 0, 0, 0, 0, 0, 0, 0, 0, 0, 0],
    [-2, -2, -2, -3, -3, -4, -4, -3, -2, 0, 0, 0, 0, 0, 0, 0, 0, 0],
    [-2, -2, -2, -2, -3, -3, -4, -4, -4, -3, -1, 0, 0, 0, 0, 0, 0, 0],
    [-2, -2, -2, -2, -2, -3, -3, -4, -5, -4, -3, -1, 0, 0, 0, 0, 0, 0],
    [-2, -2, -2, -2, -2, -2, -3, -3, -4, -5, -4, -2, -1, 0, 0, 0, 0, 0],
    [-2, -2, -2, -2, -2, -2, -2, -3, -3, -4, -5, -4, -2, -1, 0, 0, 0, 0],
    [-2, -2, -2, -2, -2, -2, -2, -2, -3, -3, -4, -5, -3, -2, -1, 0, 0, 0],
    [-2, -2, -2, -2, -2, -2, -2, -2, -2, -3, -3, -4, -5, -3, -2, -1, -1, -1],
    [-2, -2, -2, -2, -2, -2, -2, -2, -2, -2, -2, -3, -4, -5, -3, -1, 0, 0],
    [-1, -1, -1, -1, -2, -2, -2, -2, -2, -2, -2, -2, 1, 3, 5, 6, 6, 6],
    [-1, -1, -1, -1, -1, -1, -1, -1, -1, -1, -1, -1, 0, 2, 5, 8, 8, 8],
    [-1, -1, -1, -1, -1, -1, -1, -1, -1, -1, -1, -1, 0, 1, 5, 10, 12, 12],
    [-1, -1, -1, -1, -1, -1, -1, -1, -1, -1, -1, -1, 0, 1, 3, 10, 12, 12],
]
err_5map = [
    "843210000000000000", "494200000000000000", "449320000000000000", "344931000000000000",
    "223493000000000000", "222349210000000000", "112233531000000000", "111123354210000000",
    "111112335322111111", "111112234932222211", "111122233493222222", "111122222349322222",
    "111111222234543333", "111111111122354333", "111111111111235433", "111111111111123443",
    "111111111111112344", "111111111111111233",
]
right_5map = [
    "766433333333333333", "766433333333333333", "877543333333333333", "887654333333333333",
    "888765433333333333", "999876543333333333", "999987654333333333", "999999876543333333",
    "999999987654333333", "999999998765433333", "999999999876543333", "999999999987654333",
    "999999999998876444", "999999999999887654", "999999999999988765", "999999999999998776",
    "999999999999999887", "999999999999999998",
]
up_5map = [
    "666778999999999999", "666778999999999999", "556778999999999999", "455678999999999999",
    "445567899999999999", "444556789999999999", "444455678999999999", "444445567899999999",
    "444444556789999999", "444444455678899999", "444444445567888888", "444444444556788888",
    "444444444455677888", "444444444445567777", "444444444444556777", "444444444444455677",
    "444444444444445566", "444444444444444556",
]
tilt_true = [[0] * 18] * 18
err_true = ["0" * 18] * 18
right_true = [
    "993333333333333333", "993333333333333333", "999333333333333333", "999933333333333333",
    "999993333333333333", "999999333333333333", "999999933333333333", "999999993333333333",
    "999999999333333333", "999999999933333333", "999999999993333333", "999999999999333333",
    "999999999999933333", "999999999999993333", "999999999999999333", "999999999999999933",
    "999999999999999993", "999999999999999999",
]
up_true = [
    "339999999999999999", "339999999999999999", "333999999999999999", "333399999999999999",
    "333339999999999999", "333333999999999999", "333333399999999999", "333333339999999999",
    "333333333999999999", "333333333399999999", "333333333339999999", "333333333333999999",
    "333333333333399999", "333333333333339999", "333333333333333999", "333333333333333399",
    "333333333333333339", "333333333333333333",
]

fiber_panels = [
    (tilt_1map, err_1map, right_1map, up_1map),
    (tilt_2map, err_2map, right_2map, up_2map),
    (tilt_3map, err_3map, right_3map, up_3map),
    (tilt_5map, err_5map, right_5map, up_5map),
    (tilt_true, err_true, right_true, up_true),
]
# (row, col, activation grid, points)
activation_panels = [
    (1, 0, at_1map_m1, pts_1map_m1), (1, 1, at_2map_m1, pts_2map_m1), (1, 2, at_3map_m1, pts_3map_m1),
    (1, 3, at_5map_m1, pts_5map_m1), (1, 4, at_true_m1, None),
    (2, 1, at_2map_m2, pts_2map_m2), (2, 2, at_3map_m2, pts_3map_m2), (2, 3, at_5map_m2, pts_5map_m2),
    (2, 4, at_true_m2, None),
    (3, 2, at_3map_m3, pts_3map_m3), (3, 3, at_5map_m3, pts_5map_m3), (3, 4, at_true_m3, None),
    (4, 3, at_5map_m4, pts_5map_m4), (4, 4, at_true_m4, None),
    (5, 3, at_5map_m5, pts_5map_m5), (5, 4, at_true_m5, None),
]

fig = go.Figure()
axis_no = 0


def add_axes(left, top, w, h, xrange, yrange, **extra):
    global axis_no
    axis_no += 1
    style = dict(showgrid=False, zeroline=False, showticklabels=False, ticks="",
                 showline=True, mirror=True, linecolor="#2a2a2a", linewidth=2)
    style.update(extra)
    fig.layout[f"xaxis{axis_no}"] = dict(domain=[left / W, (left + w) / W], range=xrange,
                                        anchor=f"y{axis_no}", **style)
    fig.layout[f"yaxis{axis_no}"] = dict(domain=[1 - (top + h) / H, 1 - top / H], range=yrange,
                                        anchor=f"x{axis_no}", showgrid=False, zeroline=False,
                                        showticklabels=False, showline=True, mirror=True,
                                        linecolor=style["linecolor"], linewidth=style["linewidth"])
    return f"x{axis_no}", f"y{axis_no}"


def arrow(x0, y0, angle, length):
    # angle counter-clockwise on screen, lattice units with y pointing down
    a = math.radians(angle)
    dx, dy = math.cos(a), -math.sin(a)
    tip = (x0 + dx * length, y0 + dy * length)
    neck = (x0 + dx * max(length - 0.45, 0), y0 + dy * max(length - 0.45, 0))
    return neck, tip, 90 - angle


def add_fibers(panel, xa, ya):
    tilt, err, right, up = panel
    bins = {}
    for r in range(18):
        for c in range(18):
            x0, y0 = c * 2, r * 2
            t = tilt[r][c]
            lean = t if (t >= 0 or t <= -25) else -t
            b = bins.setdefault(int(err[r][c]), dict(lx=[], ly=[], tx=[], ty=[], ang=[]))
            for angle, digit in ((t, right[r][c]), (90 + lean, up[r][c])):
                neck, tip, rot = arrow(x0, y0, angle, (int(digit) + 1) / 10 * 2)
                b["lx"] += [x0, neck[0], None]
                b["ly"] += [y0, neck[1], None]
                b["tx"].append(tip[0])
                b["ty"].append(tip[1])
                b["ang"].append(rot)
    for level in sorted(bins):
        b = bins[level]
        col = err_colors[level]
        fig.add_trace(go.Scatter(x=b["lx"], y=b["ly"], mode="lines", xaxis=xa, yaxis=ya,
                                 line=dict(color=col, width=2), showlegend=False, hoverinfo="skip"))
        fig.add_trace(go.Scatter(x=b["tx"], y=b["ty"], mode="markers", xaxis=xa, yaxis=ya,
                                 marker=dict(symbol="arrow", size=10, color=col, angle=b["ang"], line_width=0),
                                 showlegend=False, hoverinfo="skip"))


node_pos = [i * 3.4 for i in range(11)]
act_scale = []
for i, c in enumerate(act_colors):
    act_scale += [[i / 12, c], [(i + 1) / 12, c]]

for c in range(5):
    xa, ya = add_axes(COL_LEFT[c], ROW_TOP[0], PANEL, PANEL, [0, 34], [34, 0])
    add_fibers(fiber_panels[c], xa, ya)

for r, c, grid, pts in activation_panels:
    xa, ya = add_axes(COL_LEFT[c], ROW_TOP[r], PANEL, PANEL, [0, 34], [34, 0])
    z = [[v / 100 for v in row] for row in grid]
    fig.add_trace(go.Contour(x=node_pos, y=node_pos, z=z, xaxis=xa, yaxis=ya, zmin=-0.3, zmax=3.3,
                             colorscale=act_scale, showscale=False, hoverinfo="skip",
                             autocontour=False, line=dict(width=0, smoothing=1.3),
                             contours=dict(coloring="fill", start=-0.3, end=3.3, size=0.3, showlines=False)))
    if pts:
        px_, py_ = [], []
        for row_no, cols in enumerate(pts):
            for col_no in cols:
                px_.append(col_no)
                py_.append(row_no)
        fig.add_trace(go.Scatter(x=px_, y=py_, mode="markers", xaxis=xa, yaxis=ya, showlegend=False,
                                 hoverinfo="skip",
                                 marker=dict(symbol="circle-open", size=8, color="black", line_width=2)))

# colour bars
xa, ya = add_axes(335, 2683, 621, 39, [0, 3], [0, 1], ticks="outside", ticklen=3, tickcolor="#777",
                  tickvals=act_bar_edges, linewidth=1, linecolor="#222")
bar_scale = []
for i, c in enumerate(act_bar_colors):
    bar_scale += [[i / 10, c], [(i + 1) / 10, c]]
fig.add_trace(go.Heatmap(x=act_bar_edges, y=[0, 1], z=[act_bar_mids], zmin=0, zmax=3, xaxis=xa, yaxis=ya,
                         colorscale=bar_scale, showscale=False, hoverinfo="skip"))

xa, ya = add_axes(331, 2858, 621, 39, [0, 90], [0, 1], ticks="inside", ticklen=3, tickcolor="#555",
                  tickvals=err_ticks, linewidth=1, linecolor="#222")
err_scale = [[i / 9, c] for i, c in enumerate(err_colors)]
fig.add_trace(go.Heatmap(x=list(range(0, 91)), y=[0, 1], z=[[v + 0.5 for v in range(90)]], zmin=0, zmax=90,
                         xaxis=xa, yaxis=ya, colorscale=err_scale, showscale=False, hoverinfo="skip"))


def label(text, px_x, px_y, angle=0):
    fig.add_annotation(text=text, x=px_x / W, y=1 - px_y / H, xref="paper", yref="paper", showarrow=False,
                       xanchor="center", yanchor="middle", textangle=angle,
                       font=dict(family="Liberation Sans", size=53, color="black", weight="bold"))


for c, t in enumerate(col_titles):
    label(t, col_title_x[c], 96)
for r, t in enumerate(row_labels):
    label(t, row_label_x[r], ROW_TOP[r] + 226, -90)
label("0", 313, 2703)
label("3", 976, 2703)
label("activation times [-]", 647, 2769)
label("0", 307, 2877)
label("90", 988, 2877)
label("fiber error [º]", 642, 2924)

fig.update_layout(width=W, height=H, margin=dict(l=0, r=0, t=0, b=0), plot_bgcolor="white",
                  paper_bgcolor="white", showlegend=False)
fig.write_html("out.html", config={"displayModeBar": False}, post_script="document.body.style.margin='0';")
